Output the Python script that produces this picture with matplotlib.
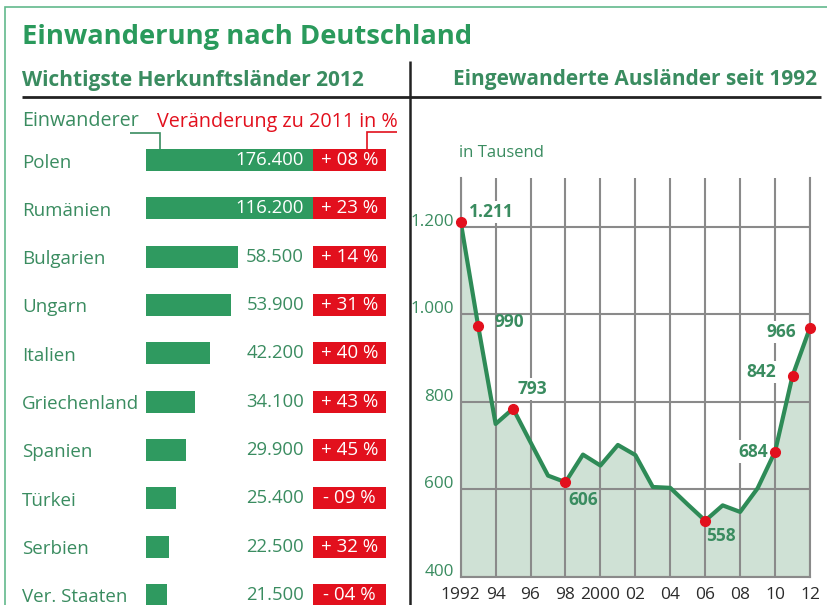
import numpy as np
import matplotlib
matplotlib.use('Agg')
import matplotlib.pyplot as plt
import matplotlib.transforms as mtrans
from matplotlib.lines import Line2D

plt.rcParams['font.family'] = ['Open Sans', 'DejaVu Sans']

# left panel: main countries of origin 2012 (immigrants in thousands, change to 2011 in %)
countries = ['Polen', 'Rumänien', 'Bulgarien', 'Ungarn', 'Italien', 'Griechenland',
             'Spanien', 'Türkei', 'Serbien', 'Ver. Staaten']
immigrants = [176.4, 116.2, 58.5, 53.9, 42.2, 34.1, 29.9, 25.4, 22.5, 21.5]
change = [8, 23, 14, 31, 40, 43, 45, -9, 32, -4]

# right panel: immigrated foreigners since 1992 (thousands)
years = np.arange(1992, 2013)
foreigners = [1211, 973, 749, 784, 707, 631, 616, 679, 654, 701, 678,
              605, 603, 565, 528, 563, 548, 602, 686, 859, 969]
marked_years = [1992, 1993, 1995, 1998, 2006, 2010, 2011, 2012]
marked_labels = ['1.211', '990', '793', '606', '558', '684', '842', '966']
year_ticks = np.arange(1992, 2013, 2)
year_ticklabels = ['1992', '94', '96', '98', '2000', '02', '04', '06', '08', '10', '12']
y_ticks = [400, 600, 800, 1000, 1200]
y_ticklabels = ['400', '600', '800', '1.000', '1.200']

# colours
title_green = '#2a9a5c'
text_green = '#3a8c60'
bar_green = '#2f9a60'
line_green = '#2e8b57'
fill_green = '#cfe1d5'
frame_green = '#62b98c'
red = '#e2101d'
grid_gray = '#8a8a8a'

W, H = 828, 605
fig = plt.figure(figsize=(W / 100, H / 100), dpi=100)


def px(x, y):
    # pixel position (top-left origin) -> figure fraction
    return x / W, 1 - y / H


def box(left, top, right, bottom):
    return [left / W, 1 - bottom / H, (right - left) / W, (bottom - top) / H]


def fig_line(xs, ys, color, lw):
    fx = [x / W for x in xs]
    fy = [1 - y / H for y in ys]
    fig.add_artist(Line2D(fx, fy, transform=fig.transFigure, color=color, lw=lw,
                          solid_joinstyle='miter', solid_capstyle='butt'))


# frame and dividers
fig_line([828, 5, 5], [7, 7, 605], frame_green, 1.2)
fig_line([22, 821], [97, 97], '#222222', 2.0)
fig_line([410, 410], [61, 605], '#222222', 1.8)

# titles
fig.text(*px(22, 43.5), 'Einwanderung nach Deutschland', fontsize=19.7, fontweight='bold',
         color=title_green, va='baseline')
fig.text(*px(22, 86), 'Wichtigste Herkunftsländer 2012', fontsize=15, fontweight='bold',
         color=text_green, va='baseline')
fig.text(*px(817, 85.5), 'Eingewanderte Ausländer seit 1992', fontsize=15, fontweight='bold',
         color=text_green, va='baseline', ha='right')
fig.text(*px(22, 126.5), 'Einwanderer', fontsize=14.2, color=text_green, va='baseline')
fig.text(*px(157, 126.5), 'Veränderung zu 2011 in %', fontsize=14.2, color=red, va='baseline')
fig_line([130, 160, 160], [133, 133, 149], text_green, 1.2)
fig_line([367, 367, 397], [149, 132, 132], red, 1.2)

# bars (compressed scale as in the original)
rows = np.arange(len(countries))
p = 0.55
ax_bar = fig.add_axes(box(146, 136, 396, 619))
ax_bar.set_xscale('function', functions=(lambda v: np.power(np.clip(v, 0, None), p),
                                         lambda v: np.power(np.clip(v, 0, None), 1 / p)))
ax_bar.barh(rows, immigrants, height=0.455, color=bar_green)
ax_bar.set_xlim(13.8, 195.6)
ax_bar.set_ylim(len(countries) - 0.5, -0.5)
ax_bar.axis('off')

trans = mtrans.blended_transform_factory(fig.transFigure, ax_bar.transData)
for i, (name, val) in enumerate(zip(countries, immigrants)):
    fig.text(22 / W, i + 0.05, name, transform=trans, fontsize=13.5, color=text_green, va='center')
    txt = f'{val * 1000:,.0f}'.replace(',', '.')
    col = 'white' if i < 2 else text_green
    fig.text(304 / W, i, txt, transform=trans, fontsize=13.3, color=col, va='center', ha='right')

# change boxes
ax_chg = fig.add_axes(box(313, 136, 386, 619))
ax_chg.barh(rows, np.ones(len(rows)), height=0.455, color=red)
ax_chg.set_xlim(0, 1)
ax_chg.set_ylim(len(countries) - 0.5, -0.5)
ax_chg.axis('off')
for i, c in enumerate(change):
    sign = '+' if c > 0 else '-'
    ax_chg.text(0.5, i, f'{sign} {abs(c):02d} %', ha='center', va='center',
                color='white', fontsize=13.5)

# line chart
ax = fig.add_axes(box(460.7, 178, 810, 576.7))
ax.fill_between(years, foreigners, 400, color=fill_green, lw=0, zorder=1)
ax.plot(years, foreigners, color=line_green, lw=3, zorder=3)
marked_vals = [foreigners[list(years).index(y)] for y in marked_years]
ax.plot(marked_years, marked_vals, 'o', color=red, ms=7, zorder=4, clip_on=False)

ax.set_xlim(1992, 2012)
ax.set_ylim(400, 1311)
ax.set_xticks(year_ticks)
ax.set_xticklabels(year_ticklabels)
ax.set_yticks(y_ticks)
ax.set_yticklabels(y_ticklabels)
ax.grid(color=grid_gray, lw=1.5)
ax.set_axisbelow('line')
ax.spines['top'].set_visible(False)
for s in ['left', 'right', 'bottom']:
    ax.spines[s].set_color(grid_gray)
    ax.spines[s].set_linewidth(1.5)
ax.tick_params(length=0)
ax.tick_params(axis='y', colors=text_green, labelsize=12.3, pad=5)
ax.tick_params(axis='x', colors='#2b2b2b', labelsize=12.5, pad=7.5)
# y labels sit a little above their grid lines
shift = mtrans.ScaledTranslation(0, 0.07, fig.dpi_scale_trans)
for lab in ax.get_yticklabels():
    lab.set_transform(lab.get_transform() + shift)
ax.text(-0.005, 1.053, 'in Tausend', transform=ax.transAxes, fontsize=12, color=text_green,
        va='baseline')

# point labels
offsets = [(6, 7), (12, 3), (3, 14), (2, -13), (1, -11), (-5, 0), (-12, 3), (-10, -3)]
boxed = [True, False, True, False, False, True, True, True]
for yr, v, lab, off, b in zip(marked_years, marked_vals, marked_labels, offsets, boxed):
    ha = 'left' if off[0] > 0 else 'right'
    bb = dict(facecolor='white', edgecolor='none', pad=1.5) if b else None
    ax.annotate(lab, (yr, v), xytext=off, textcoords='offset points', ha=ha, va='center',
                fontsize=12.5, fontweight='bold', color=text_green, bbox=bb, zorder=2.6)

fig.savefig('out.png', dpi=100)
